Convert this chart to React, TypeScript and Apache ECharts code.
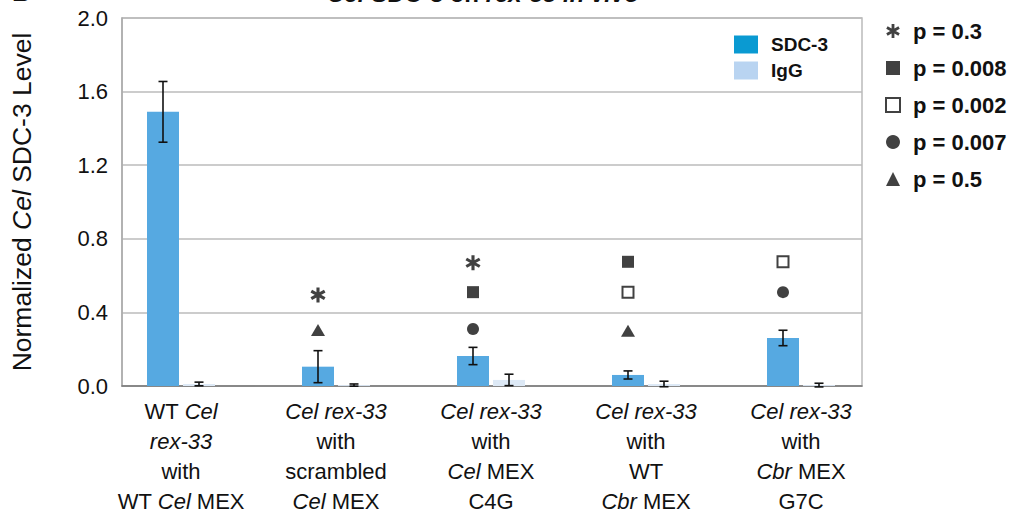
import React, { useEffect, useRef } from "react";
import * as echarts from "echarts";

const categories = ["g1", "g2", "g3", "g4", "g5"];
const categoryLabels = [
  "WT {i|Cel}\n{i|rex-33}\nwith\nWT {i|Cel} MEX",
  "{i|Cel rex-33}\nwith\nscrambled\n{i|Cel} MEX",
  "{i|Cel rex-33}\nwith\n{i|Cel} MEX\nC4G",
  "{i|Cel rex-33}\nwith\nWT\n{i|Cbr} MEX",
  "{i|Cel rex-33}\nwith\n{i|Cbr} MEX\nG7C",
];
const yTicks = [0, 0.4, 0.8, 1.2, 1.6, 2.0];

const sdcValues = [1.49, 0.105, 0.163, 0.06, 0.261];
const sdcErrors = [0.165, 0.087, 0.047, 0.022, 0.042];
const iggValues = [0.011, 0.005, 0.033, 0.011, 0.005];
const iggErrors = [0.01, 0.006, 0.031, 0.015, 0.01];

const pAsterisk = [[1, 0.495], [2, 0.67]];
const pFilledSquare = [[2, 0.51], [3, 0.675]];
const pOpenSquare = [[3, 0.51], [4, 0.675]];
const pCircle = [[2, 0.31], [4, 0.51]];
const pTriangle = [[1, 0.305], [3, 0.3]];

const pNames = ["p = 0.3", "p = 0.008", "p = 0.002", "p = 0.007", "p = 0.5"];

const FONT = "'Liberation Sans', Arial, Helvetica, sans-serif";
const ASTERISK =
  "path://M-0.2,-1L0.2,-1L0.2,1L-0.2,1Z M0.766,-0.673L0.966,-0.327L-0.766,0.673L-0.966,0.327Z M-0.966,-0.327L-0.766,-0.673L0.966,0.327L0.766,0.673Z";

const BAR_OFFSET = 18;

function errorSeries(name: string, values: number[], errors: number[], offset: number) {
  return {
    type: "custom",
    name,
    xAxisIndex: 1,
    yAxisIndex: 1,
    z: 5,
    data: values.map((v, i) => [i, v, errors[i]]),
    encode: { x: 0, y: 1 },
    renderItem: (params: any, api: any) => {
      const i = api.value(0);
      const v = api.value(1);
      const e = api.value(2);
      const top = api.coord([i, v + e]);
      const bot = api.coord([i, Math.max(v - e, -0.01)]);
      const x = top[0] + offset;
      const cw = 4.5;
      const st = { stroke: "#111", lineWidth: 1.6 };
      return {
        type: "group",
        children: [
          { type: "line", shape: { x1: x, y1: top[1], x2: x, y2: bot[1] }, style: st },
          { type: "line", shape: { x1: x - cw, y1: top[1], x2: x + cw, y2: top[1] }, style: st },
          { type: "line", shape: { x1: x - cw, y1: bot[1], x2: x + cw, y2: bot[1] }, style: st },
        ],
      };
    },
  };
}

function markerSeries(name: string, data: number[][], symbol: string, size: any, itemStyle: any) {
  return {
    type: "scatter",
    name,
    xAxisIndex: 1,
    yAxisIndex: 1,
    z: 6,
    symbol,
    symbolSize: size,
    symbolOffset: [-BAR_OFFSET, 0],
    itemStyle,
    data: data.map((d) => [categories[d[0]], d[1]]),
  };
}

export default function App() {
  const ref = useRef<HTMLDivElement>(null);
  useEffect(() => {
    if (!ref.current) return;
    const chart = echarts.init(ref.current, undefined, { renderer: "svg" });
    const labelRich = {
      i: { fontStyle: "italic", fontSize: 22, lineHeight: 30, fontFamily: FONT, color: "#111" },
    };
    chart.setOption({
      animation: false,
      textStyle: { fontFamily: FONT },
      grid: [
        { left: 122, top: 18, width: 740, height: 368, outerBoundsMode: "none", containLabel: false, show: true, borderColor: "#bbbbbb", borderWidth: 1.5, backgroundColor: "transparent" },
        { left: 103.5, top: 18, width: 775, height: 368, outerBoundsMode: "none", containLabel: false },
      ],
      xAxis: [
        {
          gridIndex: 0,
          type: "value",
          min: 0,
          max: 1,
          axisLine: { show: true, onZero: false, lineStyle: { color: "#777", width: 1.5 } },
          axisTick: { show: false },
          axisLabel: { show: false },
          splitLine: { show: false },
        },
        {
          gridIndex: 1,
          type: "category",
          data: categories,
          axisLine: { show: false },
          axisTick: { show: false },
          splitLine: { show: false },
          axisLabel: {
            interval: 0,
            margin: 10,
            fontSize: 22,
            lineHeight: 30,
            color: "#111",
            fontFamily: FONT,
            formatter: (_v: string, idx: number) => categoryLabels[idx],
            rich: labelRich,
          },
        },
      ],
      yAxis: [
        {
          gridIndex: 0,
          type: "value",
          min: 0,
          max: 2,
          interval: 0.4,
          axisLine: { show: true, lineStyle: { color: "#aaaaaa", width: 1.5 } },
          axisTick: { show: false },
          splitLine: { show: true, lineStyle: { color: "#bbbbbb", width: 1.5 } },
          axisLabel: {
            margin: 14,
            fontSize: 22,
            color: "#111",
            fontFamily: FONT,
            formatter: (v: number) => (yTicks.includes(Math.round(v * 10) / 10) ? v.toFixed(1) : ""),
          },
          name: "{n|Normalized }{i|Cel}{n| SDC-3 Level}",
          nameLocation: "middle",
          nameGap: 87,
          nameTextStyle: {
            rich: {
              n: { fontSize: 26.5, fontFamily: FONT, color: "#111" },
              i: { fontSize: 26.5, fontFamily: FONT, fontStyle: "italic", color: "#111" },
            },
          },
        },
        {
          gridIndex: 1,
          type: "value",
          min: 0,
          max: 2,
          show: false,
        },
      ],
      legend: [
        {
          orient: "vertical",
          left: 729,
          top: 30,
          itemWidth: 24,
          itemHeight: 18,
          itemGap: 7,
          icon: "rect",
          selectedMode: false,
          textStyle: { fontSize: 19, fontWeight: "bold", color: "#111", fontFamily: FONT, padding: [0, 0, 0, 8] },
          data: [
            { name: "SDC-3", itemStyle: { color: "#0a9ad2" } },
            { name: "IgG", itemStyle: { color: "#b9d4f1" } },
          ],
        },
        {
          orient: "vertical",
          left: 880,
          top: 15,
          itemWidth: 14,
          itemHeight: 14,
          itemGap: 15,
          selectedMode: false,
          textStyle: { fontSize: 22, lineHeight: 22, fontWeight: "bold", color: "#111", fontFamily: FONT, padding: [0, 0, 0, 8] },
          data: pNames,
        },
      ],
      graphic: [
        {
          type: "text",
          x: 483,
          y: 5,
          style: {
            text: "{i|Cel} SDC-3 on {i|rex-33} {i|in vivo}",
            textAlign: "center",
            textVerticalAlign: "bottom",
            font: `bold 24px ${FONT}`,
            fill: "#111",
            rich: { i: { fontStyle: "italic", fontWeight: "bold", fontSize: 24, fontFamily: FONT } },
          },
        },
        {
          type: "text",
          x: 12,
          y: 5,
          style: { text: "B", textVerticalAlign: "bottom", font: `bold 26px ${FONT}`, fill: "#111" },
        },
      ],
      series: [
        {
          type: "bar",
          name: "SDC-3",
          xAxisIndex: 1,
          yAxisIndex: 1,
          barWidth: 32,
          barGap: "12.5%",
          itemStyle: { color: "#56a9e1" },
          data: sdcValues,
        },
        {
          type: "bar",
          name: "IgG",
          xAxisIndex: 1,
          yAxisIndex: 1,
          barWidth: 32,
          itemStyle: { color: "#dde9f6" },
          data: iggValues,
        },
        errorSeries("sdcErr", sdcValues, sdcErrors, -BAR_OFFSET),
        errorSeries("iggErr", iggValues, iggErrors, BAR_OFFSET),
        markerSeries(pNames[0], pAsterisk, ASTERISK, 15, { color: "#111" }),
        markerSeries(pNames[1], pFilledSquare, "rect", 12, { color: "#111" }),
        markerSeries(pNames[2], pOpenSquare, "rect", 11, { color: "#fff", borderColor: "#111", borderWidth: 2 }),
        markerSeries(pNames[3], pCircle, "circle", 12, { color: "#111" }),
        markerSeries(pNames[4], pTriangle, "triangle", [14, 12], { color: "#111" }),
      ],
    });
    return () => chart.dispose();
  }, []);
  return <div ref={ref} style={{ position: "absolute", left: 0, top: 0, width: 1011, height: 510 }} />;
}
